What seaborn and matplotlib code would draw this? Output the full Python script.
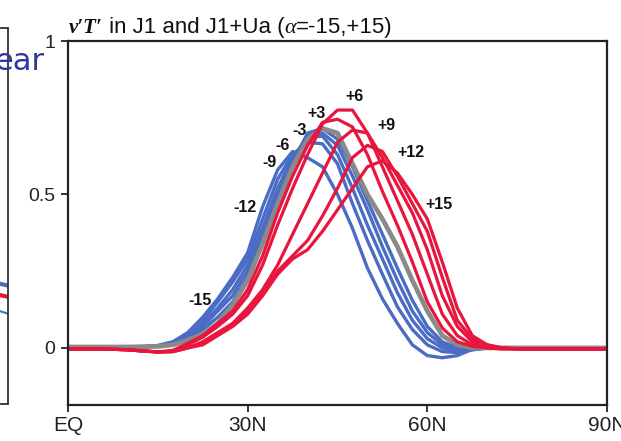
import numpy as np
import pandas as pd
import matplotlib
matplotlib.use("Agg")
import matplotlib.pyplot as plt
import seaborn as sns

# ---------------- data ----------------
lat = [0, 5, 10, 12.5, 15, 17.5, 20, 22.5, 25, 27.5, 30, 32.5, 35, 37.5, 40, 42.5,
       45, 47.5, 50, 52.5, 55, 57.5, 60, 62.5, 65, 67.5, 70, 72.5, 75, 80, 90]

m15 = [0.003, 0.003, 0.003, 0.004, 0.008, 0.02, 0.05, 0.10, 0.16, 0.23, 0.31, 0.46, 0.58, 0.64, 0.62, 0.59,
       0.50, 0.39, 0.26, 0.16, 0.08, 0.01, -0.025, -0.032, -0.025, -0.005, 0.0, 0.0, 0.0, 0.0, 0.0]
m12 = [0.003, 0.003, 0.003, 0.004, 0.007, 0.018, 0.045, 0.09, 0.15, 0.215, 0.29, 0.42, 0.55, 0.63, 0.67, 0.665,
       0.60, 0.47, 0.35, 0.24, 0.134, 0.06, 0.01, -0.012, -0.015, -0.005, 0.0, 0.0, 0.0, 0.0, 0.0]
m9 = [0.003, 0.003, 0.003, 0.004, 0.006, 0.015, 0.04, 0.08, 0.13, 0.19, 0.27, 0.39, 0.52, 0.62, 0.685, 0.69,
      0.63, 0.52, 0.40, 0.29, 0.18, 0.09, 0.03, 0.0, -0.012, -0.006, 0.0, 0.0, 0.0, 0.0, 0.0]
m6 = [0.003, 0.003, 0.003, 0.004, 0.005, 0.012, 0.035, 0.07, 0.12, 0.17, 0.25, 0.37, 0.50, 0.61, 0.695, 0.70,
      0.66, 0.56, 0.45, 0.33, 0.22, 0.12, 0.05, 0.01, -0.008, -0.006, 0.0, 0.0, 0.0, 0.0, 0.0]
m3 = [0.003, 0.003, 0.003, 0.004, 0.005, 0.01, 0.03, 0.06, 0.10, 0.15, 0.23, 0.35, 0.48, 0.60, 0.70, 0.715,
      0.68, 0.59, 0.48, 0.37, 0.26, 0.155, 0.07, 0.02, 0.0, -0.004, 0.0, 0.0, 0.0, 0.0, 0.0]
a0 = [0.003, 0.003, 0.003, 0.004, 0.005, 0.01, 0.025, 0.045, 0.08, 0.14, 0.22, 0.34, 0.47, 0.59, 0.68, 0.715,
      0.70, 0.60, 0.50, 0.42, 0.33, 0.22, 0.12, 0.04, 0.01, 0.0, 0.0, 0.0, 0.0, 0.0, 0.0]
p3 = [-0.003, -0.003, -0.006, -0.01, -0.013, -0.008, 0.015, 0.04, 0.08, 0.12, 0.19, 0.30, 0.44, 0.56, 0.66, 0.735,
      0.745, 0.72, 0.63, 0.51, 0.40, 0.28, 0.15, 0.065, 0.02, 0.005, 0.0, -0.003, -0.003, -0.003, -0.003]
p6 = [-0.003, -0.003, -0.006, -0.01, -0.013, -0.01, 0.01, 0.035, 0.07, 0.11, 0.17, 0.27, 0.40, 0.52, 0.63, 0.73,
      0.775, 0.775, 0.70, 0.59, 0.48, 0.37, 0.24, 0.11, 0.04, 0.01, 0.0, -0.003, -0.003, -0.003, -0.003]
p9 = [-0.003, -0.003, -0.006, -0.01, -0.013, -0.012, 0.0, 0.02, 0.05, 0.08, 0.13, 0.19, 0.27, 0.37, 0.47, 0.57,
      0.67, 0.71, 0.70, 0.62, 0.53, 0.44, 0.32, 0.17, 0.07, 0.02, 0.005, 0.0, -0.003, -0.003, -0.003]
p12 = [-0.003, -0.003, -0.006, -0.01, -0.013, -0.012, 0.0, 0.015, 0.045, 0.075, 0.12, 0.18, 0.25, 0.30, 0.35, 0.43,
       0.52, 0.62, 0.66, 0.64, 0.56, 0.47, 0.38, 0.23, 0.09, 0.03, 0.01, 0.0, -0.003, -0.003, -0.003]
p15 = [-0.003, -0.003, -0.006, -0.01, -0.013, -0.012, 0.0, 0.01, 0.04, 0.07, 0.11, 0.17, 0.24, 0.29, 0.32, 0.38,
       0.45, 0.52, 0.59, 0.61, 0.57, 0.50, 0.42, 0.28, 0.13, 0.04, 0.01, 0.0, -0.003, -0.003, -0.003]

blue_names = ["-15", "-12", "-9", "-6", "-3"]
blue_vals = [m15, m12, m9, m6, m3]
gray_names = ["0"]
gray_vals = [a0]
red_names = ["+3", "+6", "+9", "+12", "+15"]
red_vals = [p3, p6, p9, p12, p15]

# curve labels (text annotations)
label_text = ["-15", "-12", "-9", "-6", "-3", "+3", "+6", "+9", "+12", "+15"]
label_lat = [22.0, 29.5, 33.7, 35.8, 38.7, 41.5, 47.8, 53.2, 57.3, 62.0]
label_val = [0.156, 0.456, 0.603, 0.661, 0.71, 0.765, 0.818, 0.726, 0.638, 0.466]

xtick_pos = [0, 30, 60, 90]
xtick_lab = ["EQ", "30N", "60N", "90N"]
ytick_pos = [0, 0.5, 1]
ytick_lab = ["0", "0.5", "1"]

title_var = "v\u2032T\u2032"
title_parts = [" in J1 and J1+Ua (", "\u03b1", "=-15,+15)"]

# partial neighbouring panel (cut off on the left)
left_lat = [80, 85, 90]
left_blue = [0.34, 0.325, 0.315]
left_red = [0.305, 0.295, 0.285]
left_thin = [0.27, 0.255, 0.24]

BLUE = "#4a6cc4"
RED = "#e8163e"
GRAY = "#8a8a8a"


def longform(names, vals):
    rows = []
    for n, v in zip(names, vals):
        for x, y in zip(lat, v):
            rows.append((n, x, y))
    return pd.DataFrame(rows, columns=["alpha", "lat", "val"])


df_blue = longform(blue_names, blue_vals)
df_gray = longform(gray_names, gray_vals)
df_red = longform(red_names, red_vals)

sns.set_style("ticks")
plt.rcParams["font.family"] = ["Liberation Sans", "DejaVu Sans"]

fig = plt.figure(figsize=(6.21, 4.41), dpi=100)
W, H = 621, 441

# main axes
ax = fig.add_axes([68 / W, (H - 405) / H, (607 - 68) / W, (405 - 41) / H])
sns.lineplot(data=df_blue, x="lat", y="val", units="alpha", estimator=None,
             color=BLUE, lw=2.4, ax=ax, sort=False)
sns.lineplot(data=df_gray, x="lat", y="val", units="alpha", estimator=None,
             color=GRAY, lw=3.4, ax=ax, sort=False)
sns.lineplot(data=df_red, x="lat", y="val", units="alpha", estimator=None,
             color=RED, lw=2.3, ax=ax, sort=False)

ax.set_xlim(0, 90)
ax.set_ylim(-0.186, 1.0)
ax.set_xticks(xtick_pos)
ax.set_xticklabels(xtick_lab, fontsize=15)
ax.set_yticks(ytick_pos)
ax.set_yticklabels(ytick_lab, fontsize=14)
ax.set_xlabel("")
ax.set_ylabel("")
for s in ax.spines.values():
    s.set_linewidth(1.6)
    s.set_color("#222222")
ax.tick_params(axis="both", length=5, width=1.3, color="#222222", labelcolor="#222222")
ax.tick_params(axis="y", pad=4)
ax.tick_params(axis="x", pad=3)

for t, x, y in zip(label_text, label_lat, label_val):
    ax.text(x, y, t, ha="center", va="center", fontsize=11.5, fontweight="bold",
            color="#111111")

# title: bold-italic serif variable + sans rest (alpha in italic)
renderer = fig.canvas.get_renderer()
ybase = (H - 33) / H
t1 = fig.text(69 / W, ybase, title_var, ha="left", va="baseline", fontsize=15,
              family=["Liberation Serif", "DejaVu Serif"], style="italic", fontweight="bold",
              color="#111111")
xcur = t1.get_window_extent(renderer=renderer).x1
styles = ["normal", "italic", "normal"]
fams = [["Liberation Sans", "DejaVu Sans"], ["Liberation Serif", "DejaVu Serif"],
        ["Liberation Sans", "DejaVu Sans"]]
for part, st, fm in zip(title_parts, styles, fams):
    tt = fig.text(xcur / W, ybase, part, ha="left", va="baseline", fontsize=16,
                  style=st, family=fm, color="#111111")
    xcur = tt.get_window_extent(renderer=renderer).x1

# left cut-off panel
axl = fig.add_axes([-300 / W, (H - 404) / H, 308 / W, (404 - 28) / H])
axl.plot(left_lat, left_blue, color=BLUE, lw=3)
axl.plot(left_lat, left_red, color=RED, lw=3)
axl.plot(left_lat, left_thin, color=BLUE, lw=1.5)
axl.set_xlim(0, 90)
axl.set_ylim(0, 1)
axl.set_xticks([])
axl.set_yticks([])
for s in axl.spines.values():
    s.set_linewidth(1.3)
    s.set_color("#333333")

fig.text(45 / W, (H - 70) / H, "ear", ha="right", va="baseline", fontsize=22,
         color="#2e36a0", family=["DejaVu Sans"])

fig.savefig("out.png", dpi=100)
